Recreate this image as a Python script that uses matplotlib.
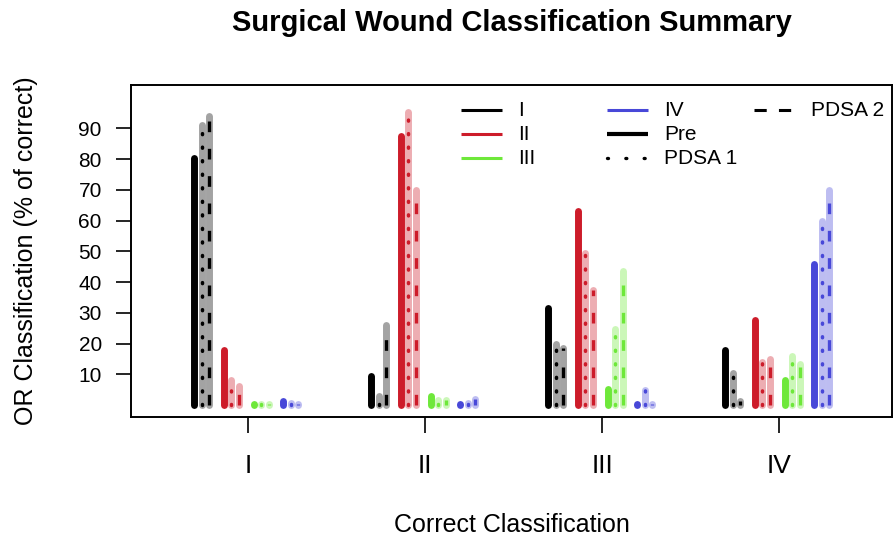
import matplotlib.pyplot as plt
import numpy as np
from matplotlib.colors import to_rgb

plt.rcParams['font.family'] = ['Liberation Sans', 'DejaVu Sans']

groups = ['I', 'II', 'III', 'IV']
phases = ['Pre', 'PDSA 1', 'PDSA 2']
colors = ['#000000', '#CD1C2A', '#6EE83A', '#4848D8']

# % of correct given each OR class; rows = correct class I..IV, cols = Pre, PDSA 1, PDSA 2
or_I = [[80.5, 91, 94], [9.5, 3, 26], [31.5, 20, 18.5], [18, 10.4, 1.3]]
or_II = [[18, 8, 6.3], [87.5, 95.3, 70], [63, 49.5, 37.5], [27.7, 14, 15]]
or_III = [[0.2, 0.2, 0.2], [3, 1.5, 1.5], [5.3, 24.7, 43.5], [8.2, 15.8, 13.4]]
or_IV = [[1.2, 0.6, 0.3], [0.3, 0.6, 1.8], [0.2, 4.8, 0.3], [46, 59.7, 70]]

dotted = (0, (0.3, 3.6))
dashed = (0, (3.2, 5))

fig = plt.figure(figsize=(8.93, 5.37), dpi=100)
ax = fig.add_axes([131 / 893, 120 / 537, 761 / 893, 332 / 537])

for j, vals in enumerate([or_I, or_II, or_III, or_IV]):
    vals = np.array(vals)
    light = 1 - 0.36 * (1 - np.array(to_rgb(colors[j])))
    for g in range(4):
        for k in range(3):
            x = g + 1 + (j - 1.5) * 0.168 + (k - 1) * 0.042 - 0.01
            y = vals[g, k]
            if k == 0:
                ax.plot([x, x], [0, y], color=colors[j], lw=5, solid_capstyle='round')
            else:
                ax.plot([x, x], [0, y], color=light, lw=5, solid_capstyle='round')
                if k == 1:
                    ax.plot([x, x], [0, y], color=colors[j], lw=2.5, linestyle=dotted,
                            dash_capstyle='round')
                else:
                    ax.plot([x, x], [0, y], color=colors[j], lw=2.4, linestyle=dashed,
                            dash_capstyle='butt')

ax.set_xlim(0.339, 4.638)
ax.set_ylim(-3.9, 104.1)
ax.set_xticks([1, 2, 3, 4], groups)
ax.set_yticks(range(10, 100, 10))
ax.tick_params(axis='x', length=11.5, width=1.2, pad=15, labelsize=19)
ax.tick_params(axis='y', length=11, width=1.2, pad=10, labelsize=15)
for s in ax.spines.values():
    s.set_linewidth(1.4)

# legend, laid out column-wise like the original
leg_labels = ['I', 'II', 'III', 'IV', 'Pre', 'PDSA 1', 'PDSA 2']
leg_colors = colors + ['#000000'] * 3
leg_styles = ['-', '-', '-', '-', '-', (0, (0.3, 5.2)), (0, (4, 4))]
leg_widths = [2.2, 2.2, 2.2, 2.2, 3, 2.4, 2.2]
col_x = [461, 607, 754]
row_y = [110, 134, 158]
for i, lab in enumerate(leg_labels):
    c, r = divmod(i, 3)
    x0 = (col_x[c] - 131) / 761
    x1 = (col_x[c] + 41 - 131) / 761
    yy = (417 - row_y[r]) / 332
    ax.plot([x0, x1], [yy, yy], transform=ax.transAxes, color=leg_colors[i],
            lw=leg_widths[i], linestyle=leg_styles[i],
            dash_capstyle='round' if i == 5 else 'butt',
            solid_capstyle='butt', clip_on=False)
    ax.text((col_x[c] + 57 - 131) / 761, yy, lab, transform=ax.transAxes,
            fontsize=15, va='center', ha='left')

fig.text(511.5 / 893, 1 - 23 / 537, 'Surgical Wound Classification Summary',
         fontsize=21, fontweight='bold', ha='center', va='center')
fig.text(511.5 / 893, 1 - 525 / 537, 'Correct Classification', fontsize=18,
         ha='center', va='center')
fig.text(26 / 893, 1 - 251 / 537, 'OR Classification (% of correct)', fontsize=18,
         rotation=90, ha='center', va='center')

fig.savefig('out.png', dpi=100)
